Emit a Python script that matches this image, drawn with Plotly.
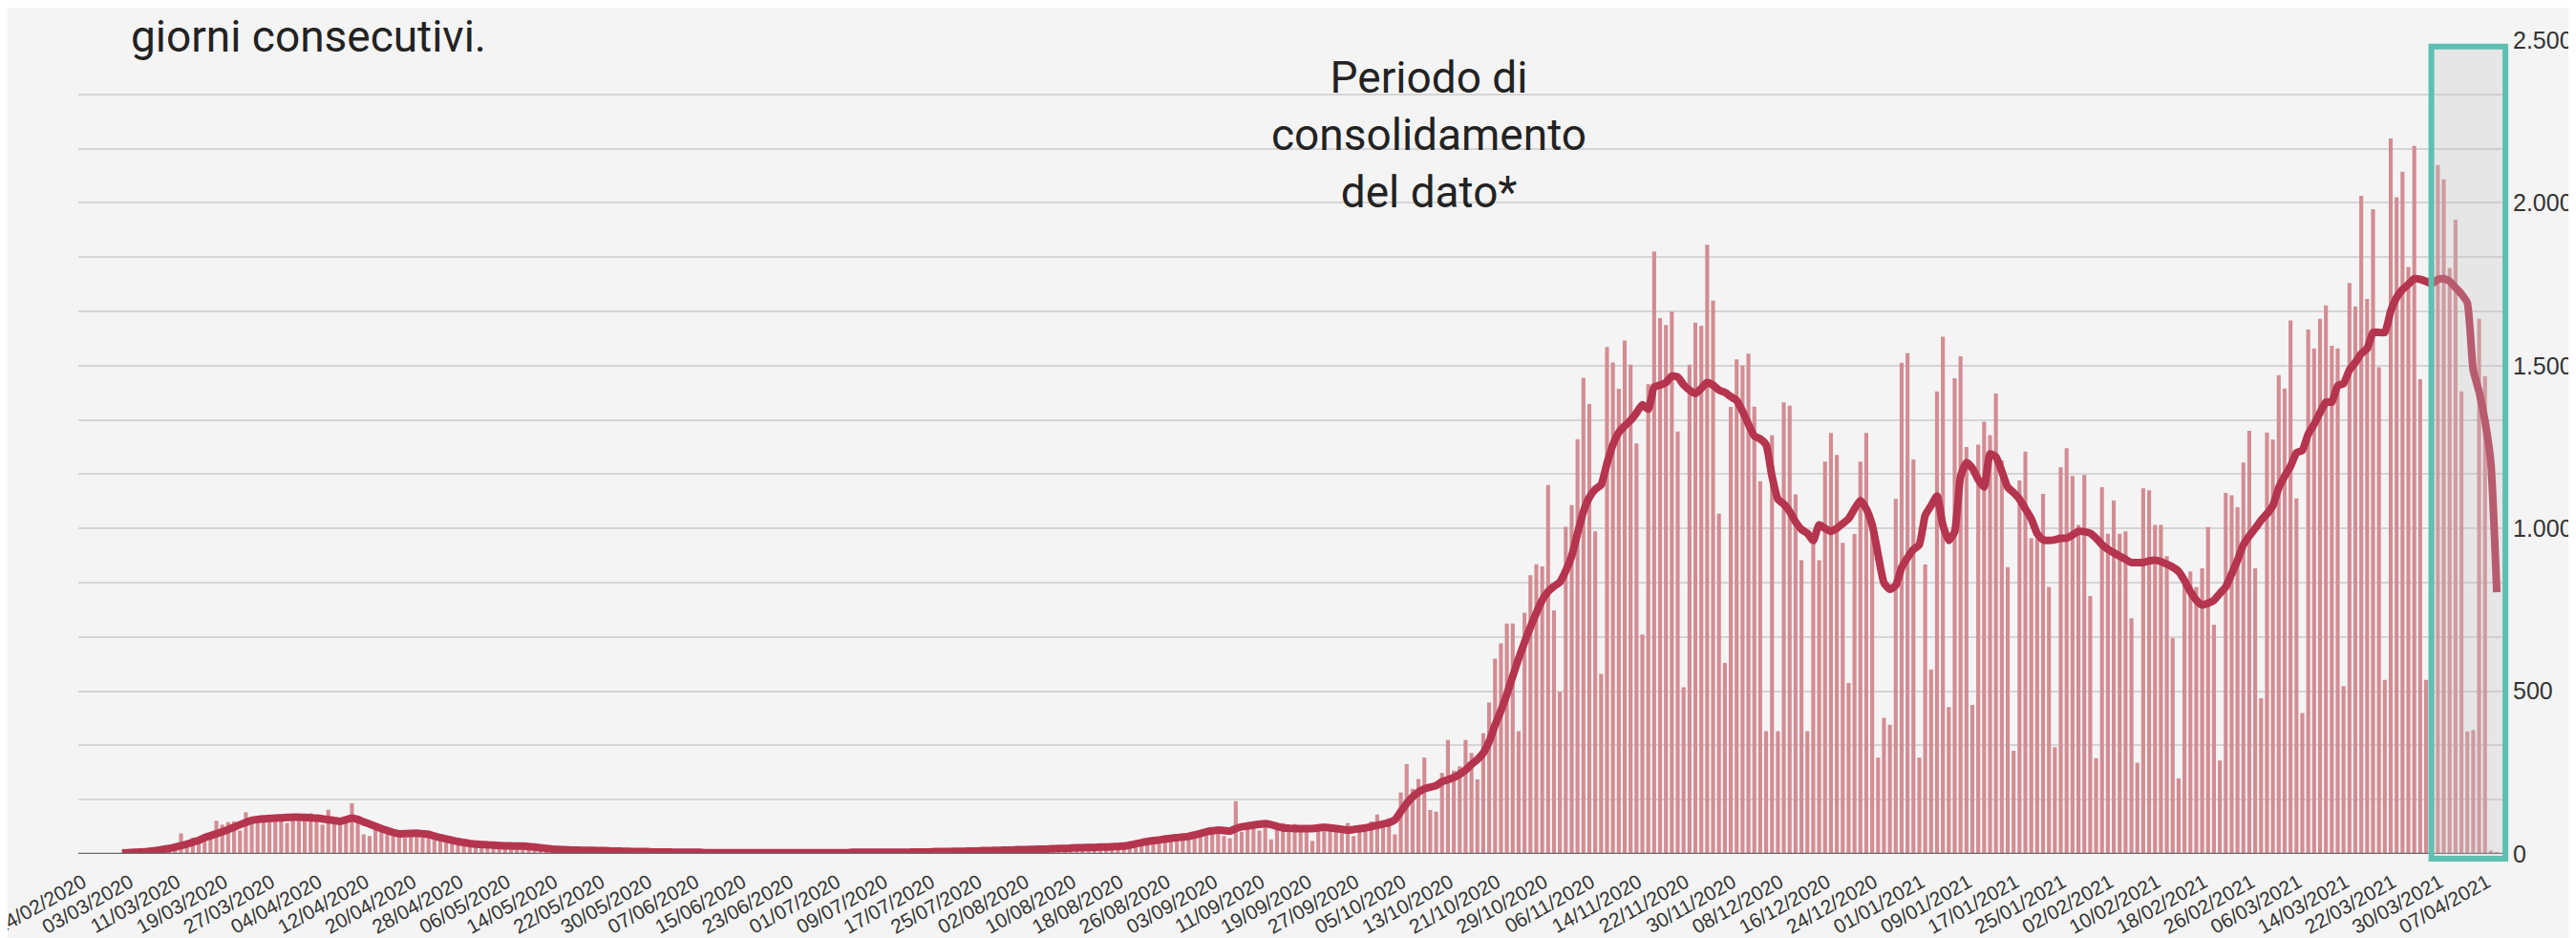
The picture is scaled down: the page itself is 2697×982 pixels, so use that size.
import pandas as pd
import plotly.graph_objects as go

# ---------------- data ----------------
start_date = "2020-02-24"

# daily values (one per day from 24/02/2020 to 07/04/2021), rows = weeks
daily_values = [
    0, 0, 0, 1, 0, 1, 2,
    2, 3, 1, 4, 6, 5, 10,
    25, 63, 30, 50, 45, 55, 60,
    102, 90, 98, 100, 72, 128, 110,
    115, 105, 118, 112, 120, 95, 115,
    120, 110, 125, 100, 90, 136, 105,
    98, 110, 156, 110, 60, 55, 90,
    80, 75, 60, 65, 50, 70, 65,
    50, 60, 55, 45, 40, 35, 30,
    32, 25, 30, 28, 22, 25, 20,
    18, 22, 25, 20, 15, 18, 12,
    15, 10, 12, 8, 10, 7, 9,
    6, 8, 5, 7, 4, 6, 5,
    4, 3, 5, 2, 4, 3, 2,
    3, 2, 1, 3, 2, 1, 2,
    1, 2, 0, 1, 3, 1, 0,
    2, 1, 1, 0, 2, 1, 1,
    1, 0, 2, 1, 1, 2, 0,
    1, 2, 1, 3, 1, 0, 2,
    2, 3, 1, 2, 4, 2, 3,
    3, 4, 2, 5, 3, 4, 6,
    5, 7, 4, 8, 6, 9, 7,
    8, 10, 7, 12, 9, 11, 13,
    14, 12, 18, 15, 20, 16, 22,
    20, 25, 18, 22, 28, 24, 26,
    30, 22, 35, 40, 28, 45, 38,
    50, 42, 55, 60, 48, 65, 58,
    70, 62, 80, 55, 48, 162, 68,
    85, 90, 72, 100, 45, 88, 95,
    80, 92, 78, 85, 40, 88, 75,
    90, 82, 70, 95, 55, 85, 88,
    100, 121, 95, 110, 60, 189, 276,
    200, 230, 296, 135, 130, 249, 350,
    256, 269, 350, 310, 229, 371, 465,
    600, 647, 708, 708, 377, 741, 856,
    890, 883, 1133, 748, 498, 1005, 1072,
    1274, 1463, 1382, 991, 553, 1557, 1510,
    1429, 1577, 1503, 1261, 674, 1443, 1851,
    1646, 1625, 1666, 1298, 512, 1503, 1632,
    1623, 1871, 1700, 1045, 587, 1373, 1519,
    1500, 1537, 1374, 1145, 377, 1286, 377,
    1387, 1377, 1105, 902, 377, 983, 902,
    1205, 1293, 1226, 956, 525, 983, 1205,
    1293, 997, 296, 418, 397, 1091, 1509,
    1538, 1212, 296, 889, 566, 1421, 1589,
    451, 1461, 1529, 1250, 458, 1257, 1328,
    1287, 1414, 1209, 881, 317, 1147, 1236,
    970, 970, 1106, 820, 328, 1188, 1246,
    1161, 1011, 1164, 792, 294, 1127, 984,
    1086, 984, 991, 724, 280, 1123, 1117,
    1011, 1011, 915, 663, 232, 826, 868,
    820, 877, 1004, 704, 287, 1109, 1102,
    1065, 1202, 1300, 877, 478, 1295, 1273,
    1471, 1430, 1639, 1092, 433, 1611, 1553,
    1644, 1685, 1561, 1553, 516, 1754, 1682,
    2022, 1705, 1981, 1495, 535, 2198, 2017,
    2096, 1803, 2175, 1458, 535, 1823, 2116,
    2072, 1800, 1948, 1421, 376, 381, 1644,
    1468, 10, 5,
]

# 7-day moving average as drawn (None where not drawn)
moving_avg = [
    None, None, None, None, None, 3, 4,
    5, 6, 7, 9, 11, 14, 17,
    21, 25, 30, 36, 42, 50, 56,
    62, 68, 75, 82, 90, 97, 103,
    106, 108, 109, 110, 111, 112, 113,
    113, 112, 111, 110, 108, 105, 103,
    100, 105, 110, 106, 98, 92, 85,
    78, 72, 66, 62, 62, 63, 64,
    62, 60, 55, 50, 46, 42, 38,
    35, 32, 30, 29, 28, 27, 26,
    25, 25, 24, 24, 23, 21, 19,
    17, 15, 14, 13, 12, 12, 11,
    11, 11, 10, 10, 9, 9, 8,
    8, 7, 7, 7, 6, 6, 6,
    6, 5, 5, 5, 5, 5, 4,
    4, 4, 4, 4, 4, 4, 4,
    4, 4, 4, 4, 4, 4, 4,
    4, 4, 4, 4, 4, 4, 4,
    4, 4, 4, 5, 5, 5, 5,
    5, 5, 5, 5, 5, 5, 6,
    6, 6, 6, 7, 7, 7, 8,
    8, 8, 9, 9, 10, 10, 11,
    11, 12, 12, 13, 13, 14, 14,
    15, 15, 16, 17, 17, 18, 19,
    19, 20, 20, 21, 21, 22, 23,
    24, 27, 31, 35, 38, 41, 43,
    46, 48, 50, 52, 54, 58, 63,
    68, 71, 73, 72, 70, 78, 83,
    86, 89, 91, 93, 90, 85, 80,
    79, 78, 78, 78, 78, 80, 82,
    80, 78, 76, 73, 75, 78, 80,
    84, 88, 92, 96, 105, 130, 155,
    175, 190, 200, 205, 210, 222, 228,
    235, 245, 258, 275, 290, 310, 345,
    396, 440, 490, 546, 600, 650, 697,
    740, 780, 806, 822, 835, 870, 915,
    985, 1052, 1095, 1120, 1134, 1200, 1257,
    1295, 1315, 1332, 1355, 1380, 1366, 1434,
    1440, 1448, 1468, 1465, 1441, 1425, 1414,
    1430, 1448, 1440, 1425, 1418, 1405, 1393,
    1360, 1320, 1284, 1275, 1257, 1160, 1090,
    1075, 1052, 1020, 997, 985, 963, 1011,
    1000, 991, 1000, 1015, 1030, 1060, 1086,
    1060, 1011, 920, 833, 813, 825, 880,
    910, 935, 950, 1040, 1070, 1100, 1010,
    963, 990, 1160, 1202, 1185, 1150, 1127,
    1229, 1220, 1175, 1127, 1110, 1090, 1060,
    1030, 984, 965, 963, 965, 970, 970,
    980, 991, 990, 985, 970, 950, 936,
    925, 915, 905, 895, 895, 895, 900,
    902, 898, 890, 881, 868, 840, 806,
    780, 765, 770, 779, 800, 820, 860,
    902, 950, 977, 1000, 1025, 1045, 1070,
    1125, 1160, 1191, 1232, 1240, 1290, 1320,
    1355, 1388, 1388, 1438, 1445, 1487, 1510,
    1537, 1553, 1602, 1602, 1602, 1668, 1709,
    1734, 1750, 1767, 1765, 1759, 1751, 1765,
    1767, 1759, 1740, 1720, 1693, 1487, 1420,
    1330, 1200, 804,
]

# x tick labels (every 8 days)
tick_start = "2020-02-24"
tick_end = "2021-04-07"
tick_step_days = 8

# y axis ticks / labels
y_tick_vals = [k * 2500 / 15 for k in range(16)]
y_label_map = {0: "0", 500: "500", 1000: "1.000", 1500: "1.500", 2000: "2.000", 2500: "2.500"}

# consolidation period (last days)
consol_start = "2021-03-26 21:30"
consol_end = "2021-04-08 11:00"

title_tail = "giorni consecutivi."
consol_label = "Periodo di<br>consolidamento<br>del dato*"

# ---------------- build ----------------
dates = pd.date_range(start_date, periods=len(daily_values), freq="D")
tick_dates = pd.date_range(tick_start, tick_end, freq=f"{tick_step_days}D")
tick_text = [d.strftime("%d/%m/%Y") + "\u00a0\u00a0" for d in tick_dates]
y_tick_text = [y_label_map.get(int(round(v)), "") if abs(v - round(v / 500) * 500) < 1e-6 else "" for v in y_tick_vals]

x0 = pd.Timestamp(start_date) - pd.Timedelta(hours=58.3)
x1 = pd.Timestamp(tick_end) + pd.Timedelta(hours=27)

def xpaper(t):
    t = pd.Timestamp(t)
    return (t - x0) / (x1 - x0)

BG = "#f4f4f4"

fig = go.Figure()
fig.add_trace(go.Bar(
    x=dates, y=daily_values,
    marker=dict(color="#d38c93", line=dict(width=0)),
    hoverinfo="skip",
))
fig.add_trace(go.Scatter(
    x=dates, y=moving_avg, mode="lines",
    line=dict(color="#b5344e", width=8, shape="spline", smoothing=0.5),
    hoverinfo="skip", connectgaps=False,
))

W, H = 2697, 982
fig.update_layout(
    width=W, height=H,
    margin=dict(l=74, r=84, t=34, b=96),
    paper_bgcolor=BG, plot_bgcolor=BG,
    showlegend=False, bargap=0.33,
    template="none",
    xaxis=dict(
        type="date", range=[x0, x1],
        tickmode="array", tickvals=tick_dates, ticktext=tick_text,
        tickangle=-29, tickfont=dict(family="Liberation Sans, Arial", size=21, color="#333"),
        showgrid=False, zeroline=False, showline=False, ticks="",
        automargin=False, ticklabelstandoff=7, ticklabeloverflow="allow",
    ),
    yaxis=dict(
        range=[0, 2500], side="right",
        tickmode="array", tickvals=y_tick_vals, ticktext=y_tick_text,
        tickfont=dict(family="Liberation Sans, Arial", size=25, color="#333"),
        showgrid=True, gridcolor="#d5d5d5", gridwidth=2,
        zeroline=False, showline=False, ticks="",
        automargin=False, ticklabelstandoff=9, ticklabeloverflow="allow",
    ),
)

shapes = []
# hide left part of the top gridline (covered by text box in the original)
shapes.append(dict(type="rect", xref="paper", yref="paper",
                   x0=-0.03, x1=(1106 - 74) / (W - 74 - 84), y0=0.994, y1=1.006,
                   fillcolor=BG, line=dict(width=0), layer="above"))
# baseline axis
shapes.append(dict(type="line", xref="paper", yref="y", x0=0, x1=1, y0=0, y1=0,
                   line=dict(color="#6a6a6a", width=2.5), layer="above"))
# consolidation box
shapes.append(dict(type="rect", xref="paper", yref="paper",
                   x0=xpaper(consol_start), x1=xpaper(consol_end), y0=-0.006, y1=0.992,
                   fillcolor="rgba(195,195,195,0.28)",
                   line=dict(color="#5ec0b2", width=6), layer="above"))
fig.update_layout(shapes=shapes)

fig.add_annotation(
    text=title_tail, xref="paper", yref="paper",
    x=(127 - 74) / (W - 74 - 84), y=(886 - 1) / 852,
    xanchor="left", yanchor="top", showarrow=False,
    font=dict(family="Roboto", size=46, color="#222"),
)
fig.add_annotation(
    text=consol_label, xref="paper", yref="paper",
    x=(1488 - 74) / (W - 74 - 84), y=(886 - 133) / 852,
    xanchor="center", yanchor="middle", align="center", showarrow=False,
    font=dict(family="Roboto", size=46, color="#222"),
)

fig.write_html("out.html", config={"displayModeBar": False})
